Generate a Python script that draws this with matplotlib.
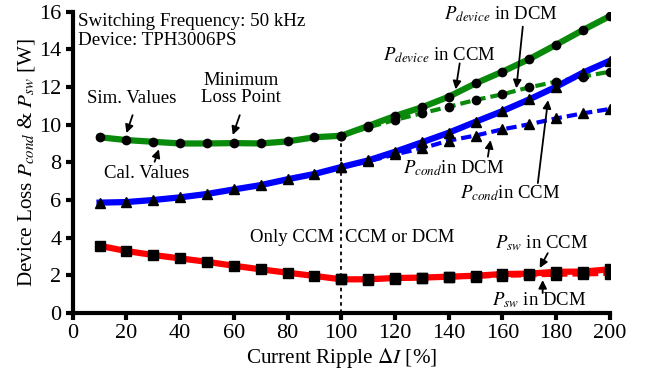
"""Device loss vs current ripple: P_device, P_cond, P_sw in CCM / DCM."""

import matplotlib
matplotlib.use("Agg")
import matplotlib.pyplot as plt

plt.rcParams["font.family"] = ["Liberation Serif", "DejaVu Serif"]
plt.rcParams["mathtext.fontset"] = "stix"

# current ripple [%]
ripple_ccm = [10, 20, 30, 40, 50, 60, 70, 80, 90, 100,
              110, 120, 130, 140, 150, 160, 170, 180, 190, 200]
ripple_dcm = [100, 110, 120, 130, 140, 150, 160, 170, 180, 190, 200]

# losses [W]
p_device_ccm = [9.33, 9.18, 9.09, 9.00, 9.00, 9.02, 9.00, 9.11, 9.33, 9.41,
                9.93, 10.46, 10.92, 11.48, 12.19, 12.81, 13.48, 14.24, 15.02, 15.76]
p_device_dcm = [9.41, 9.85, 10.25, 10.60, 10.95, 11.31, 11.61, 11.98, 12.28, 12.55, 12.81]

p_cond_ccm = [5.86, 5.89, 6.00, 6.14, 6.32, 6.56, 6.79, 7.10, 7.38, 7.75,
              8.10, 8.56, 9.06, 9.57, 10.15, 10.72, 11.34, 12.01, 12.76, 13.39]
p_cond_dcm = [7.75, 8.05, 8.42, 8.74, 9.15, 9.42, 9.75, 10.02, 10.33, 10.60, 10.83]

p_sw_ccm = [3.57, 3.29, 3.08, 2.90, 2.72, 2.51, 2.32, 2.14, 1.97, 1.79,
            1.79, 1.86, 1.88, 1.93, 1.98, 2.07, 2.09, 2.19, 2.20, 2.32]
p_sw_dcm = [1.79, 1.78, 1.83, 1.85, 1.89, 1.93, 1.98, 2.00, 2.03, 2.05, 2.08]

GREEN = "#0a8a0a"
BLUE = "#0000ff"
RED = "#ff0000"

fig = plt.figure(figsize=(6.55, 3.74), dpi=100)
ax = fig.add_axes([0.111, 0.163, 0.82, 0.806])

series = [
    (p_device_dcm, p_device_ccm, GREEN, "o", 6),
    (p_cond_dcm, p_cond_ccm, BLUE, "^", 7),
    (p_sw_dcm, p_sw_ccm, RED, "s", 7.5),
]
for dcm, ccm, col, mk, ms in series:
    ax.plot(ripple_dcm, dcm, color=col, lw=3, ls=(0, (2.5, 1.2)), zorder=2)
    ax.plot(ripple_dcm, dcm, ls="none", marker=mk, ms=ms, color="black", zorder=4)
    ax.plot(ripple_ccm, ccm, color=col, lw=4.5, zorder=3)
    ax.plot(ripple_ccm, ccm, ls="none", marker=mk, ms=ms, color="black", zorder=4)

# boundary between CCM-only and CCM/DCM region
ax.plot([100, 100], [0, p_device_ccm[9]], color="black", lw=1.3, ls=(0, (2, 2)), zorder=1)

ax.set_xlim(0, 200)
ax.set_ylim(0, 16)
ax.set_xticks(range(0, 201, 20))
ax.set_yticks(range(0, 17, 2))
ax.tick_params(labelsize=16, width=3, length=5, direction="out", pad=3)
for side in ("top", "right"):
    ax.spines[side].set_visible(False)
for side in ("left", "bottom"):
    ax.spines[side].set_linewidth(3)

ax.set_xlabel(r"Current Ripple $\Delta I$ [%]", fontsize=15.2, labelpad=2)
ax.set_ylabel(r"Device Loss $P_{cond}$ & $P_{sw}$ [W]", fontsize=15.2, labelpad=2)

ax.text(2, 15.9, "Switching Frequency: 50 kHz\nDevice: TPH3006PS",
        fontsize=13.7, va="top", ha="left", linespacing=1.1)

arrow = dict(arrowstyle="-|>", color="black", lw=1.3, mutation_scale=12,
             shrinkA=0, shrinkB=0)
notes = [
    ("Sim. Values", (22.1, 11.4), (22.3, 10.5), (20.0, 9.55)),
    ("Minimum\nLoss Point", (62.8, 11.9), (62.2, 10.5), (59.6, 9.45)),
    ("Cal. Values", (27.7, 7.43), (30.5, 8.03), (32.1, 8.69)),
    (r"$P_{device}$ in CCM", (136.7, 13.7), (144.1, 13.25), (142.6, 11.87)),
    (r"$P_{device}$ in DCM", (159.4, 15.85), (167.6, 15.2), (165.2, 11.93)),
    (r"$P_{cond}$in DCM", (141.9, 7.7), (154.6, 8.3), (155.6, 9.18)),
    (r"$P_{cond}$in CCM", (162.8, 6.37), (173.2, 6.9), (177.0, 11.3)),
    (r"$P_{sw}$ in CCM", (174.7, 3.72), (176.9, 3.18), (173.9, 2.39)),
    (r"$P_{sw}$ in DCM", (173.6, 0.69), (175.0, 1.06), (175.0, 1.75)),
]
for label, txt_xy, tail, tip in notes:
    ax.text(*txt_xy, label, fontsize=13.5, ha="center", va="center",
            linespacing=1.05, zorder=5)
    ax.annotate("", xy=tip, xytext=tail, arrowprops=arrow, zorder=5)

ax.text(81.6, 4.03, "Only CCM", fontsize=13.5, ha="center", va="center")
ax.text(121.8, 4.03, "CCM or DCM", fontsize=13.5, ha="center", va="center")

fig.savefig("out.png", dpi=100)
